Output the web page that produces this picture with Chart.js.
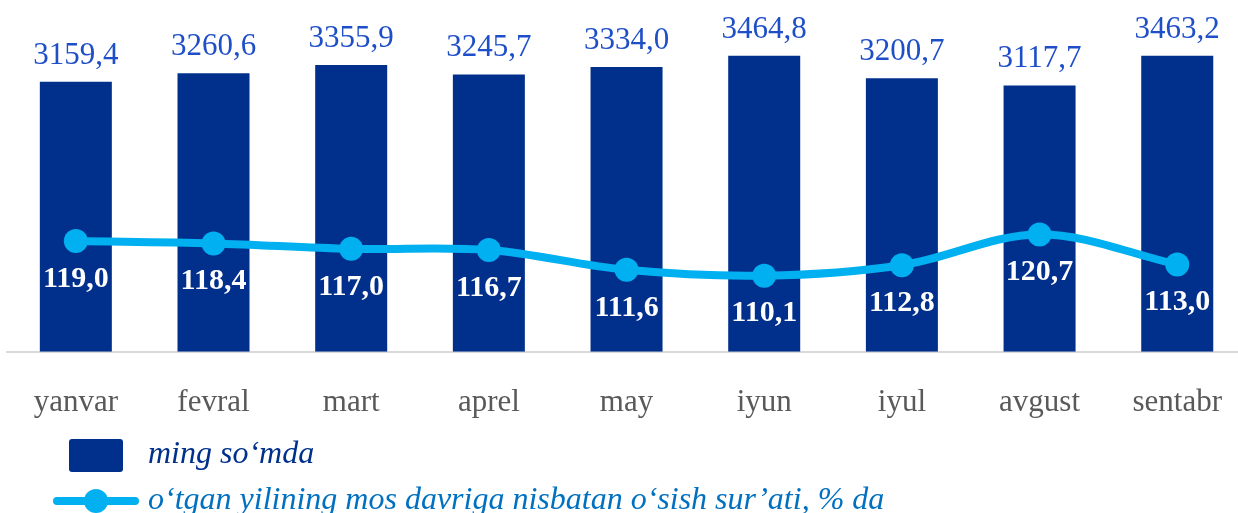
<!DOCTYPE html>
<html lang="uz">
<head>
<meta charset="utf-8">
<title>O‘rtacha oylik ish haqi</title>
<script src="https://cdn.jsdelivr.net/npm/chart.js@4.4.1/dist/chart.umd.min.js"></script>
<style>
  html, body { margin: 0; padding: 0; background: #fff; overflow: hidden; }
  #wrap { width: 1238px; height: 513px; overflow: hidden; position: relative; }
  #grafik { display: block; }
</style>
</head>
<body>
<!-- oxirgi ustun o'ng chekkaga yaqin turishi uchun kenvas biroz kengroq -->
<div id="wrap"><canvas id="grafik" width="1254" height="513"></canvas></div>
<script>
// Oylar bo'yicha ma'lumotlar
const oylar = ['yanvar', 'fevral', 'mart', 'aprel', 'may', 'iyun', 'iyul', 'avgust', 'sentabr'];
const ishHaqi = [3159.4, 3260.6, 3355.9, 3245.7, 3334.0, 3464.8, 3200.7, 3117.7, 3463.2];
const osishSurati = [119.0, 118.4, 117.0, 116.7, 111.6, 110.1, 112.8, 120.7, 113.0];
const legendNomlari = ['ming so‘mda', 'o‘tgan yilining mos davriga nisbatan o‘sish sur’ati, % da'];

const ustunRangi = '#00308C';
const chiziqRangi = '#00B0F0';

function raqam(v) {
    return v.toFixed(1).replace('.', ',');
}

// Ustun ustidagi va chiziq ostidagi yozuvlar
const yozuvlar = {
    id: 'yozuvlar',
    afterDatasetsDraw(chart) {
        const ctx = chart.ctx;
        ctx.save();
        ctx.textAlign = 'center';

        const ustunlar = chart.getDatasetMeta(0).data;
        ctx.fillStyle = '#1F4FC8';
        ctx.font = '31px "Liberation Serif"';
        ctx.textBaseline = 'alphabetic';
        ustunlar.forEach((el, i) => {
            ctx.fillText(raqam(ishHaqi[i]), el.x, el.y - 18);
        });

        const nuqtalar = chart.getDatasetMeta(1).data;
        ctx.fillStyle = '#ffffff';
        ctx.font = 'bold 30px "Liberation Serif"';
        ctx.textBaseline = 'middle';
        nuqtalar.forEach((el, i) => {
            ctx.fillText(raqam(osishSurati[i]), el.x, el.y + 38);
        });
        ctx.restore();
    }
};

// Pastki legenda: ikki qatorda
const legenda = {
    id: 'legenda',
    afterDraw(chart) {
        const ctx = chart.ctx;
        ctx.save();

        ctx.fillStyle = ustunRangi;
        ctx.beginPath();
        ctx.roundRect(69, 439, 54, 33, 3);
        ctx.fill();

        ctx.strokeStyle = chiziqRangi;
        ctx.lineWidth = 8;
        ctx.lineCap = 'round';
        ctx.beginPath();
        ctx.moveTo(57, 501);
        ctx.lineTo(135, 501);
        ctx.stroke();
        ctx.fillStyle = chiziqRangi;
        ctx.beginPath();
        ctx.arc(96, 501, 12, 0, Math.PI * 2);
        ctx.fill();

        ctx.textAlign = 'left';
        ctx.textBaseline = 'middle';
        ctx.font = 'italic 32px "Liberation Serif"';
        ctx.fillStyle = ustunRangi;
        ctx.fillText(legendNomlari[0], 148, 455);
        ctx.fillStyle = '#0070C0';
        ctx.fillText(legendNomlari[1], 148, 501);
        ctx.restore();
    }
};

new Chart(document.getElementById('grafik'), {
    data: {
        labels: oylar,
        datasets: [
            {
                type: 'bar',
                label: legendNomlari[0],
                data: ishHaqi,
                backgroundColor: ustunRangi,
                barPercentage: 0.523,
                categoryPercentage: 1,
                yAxisID: 'y',
                order: 1
            },
            {
                type: 'line',
                label: legendNomlari[1],
                data: osishSurati,
                borderColor: chiziqRangi,
                backgroundColor: chiziqRangi,
                borderWidth: 8,
                pointRadius: 12,
                pointHoverRadius: 12,
                pointBorderWidth: 0,
                tension: 0.35,
                yAxisID: 'y2',
                order: 0
            }
        ]
    },
    options: {
        responsive: false,
        animation: false,
        layout: { autoPadding: false, padding: { top: 10, left: 7, right: 0, bottom: 60 } },
        plugins: {
            legend: { display: false },
            tooltip: { enabled: false }
        },
        scales: {
            x: {
                grid: { display: false, drawTicks: false },
                border: { display: true, color: '#D9D9D9', width: 2 },
                ticks: {
                    color: '#595959',
                    font: { family: 'Liberation Serif', size: 31 },
                    padding: 32,
                    maxRotation: 0,
                    autoSkip: false
                }
            },
            y: { display: false, min: 0, max: 4000 },
            y2: { display: false, min: 90.5, max: 178.5 }
        }
    },
    plugins: [yozuvlar, legenda]
});
</script>
</body>
</html>
